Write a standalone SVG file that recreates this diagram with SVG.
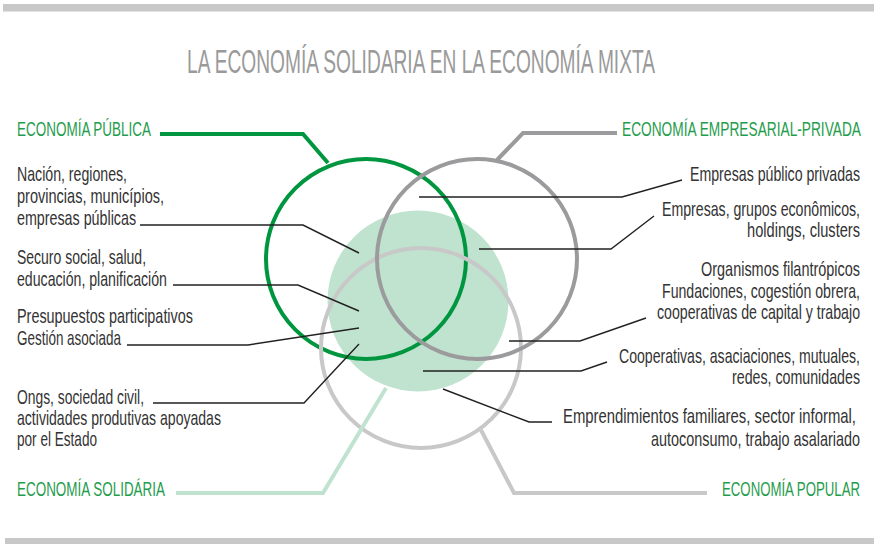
<svg xmlns="http://www.w3.org/2000/svg" width="874" height="544" viewBox="0 0 874 544">
<style>
.t{font-family:"Liberation Sans",Arial,sans-serif;font-size:20px;fill:#333333;}
.h{font-family:"Liberation Sans",Arial,sans-serif;font-size:21px;fill:#1f9d4d;}
.r{text-anchor:end;}
.title{font-family:"Liberation Sans",Arial,sans-serif;font-size:33px;fill:#9a9a9a;text-anchor:middle;}
.ring{fill:none;stroke-width:4;}
.lead{fill:none;stroke:#222222;stroke-width:1.4;}
.call{fill:none;stroke-width:4;}
</style>
<rect x="3" y="4" width="871" height="7.5" fill="#c8c8c8"/>
<rect x="5" y="538" width="869" height="6" fill="#c8c8c8"/>
<text class="title" transform="matrix(0.6 0 0 1 421 73)" x="0" y="0" textLength="780" lengthAdjust="spacingAndGlyphs">LA ECONOMÍA SOLIDARIA EN LA ECONOMÍA MIXTA</text>

<g id="solidaria">
<circle cx="418" cy="301" r="90.5" fill="#bfe3cf"/>
<text class="h" transform="matrix(0.65 0 0 1 17 496)" x="0" y="0" textLength="227.7" lengthAdjust="spacingAndGlyphs">ECONOMÍA SOLIDÁRIA</text>
</g>
<g id="publica">
<circle class="ring" cx="366" cy="259" r="100" stroke="#009640"/>
<text class="h" transform="matrix(0.65 0 0 1 17 136)" x="0" y="0" textLength="206.2" lengthAdjust="spacingAndGlyphs">ECONOMÍA PÚBLICA</text>
</g>
<g id="popular">
<circle class="ring" cx="421" cy="348" r="100" stroke="#c8c8c8"/>
<text class="h r" transform="matrix(0.65 0 0 1 860 496)" x="0" y="0" textLength="212.3" lengthAdjust="spacingAndGlyphs">ECONOMÍA POPULAR</text>
</g>
<g id="empresarial">
<circle class="ring" cx="477" cy="259" r="100" stroke="#9b9b9d"/>
<text class="h r" transform="matrix(0.65 0 0 1 861 136)" x="0" y="0" textLength="367.7" lengthAdjust="spacingAndGlyphs">ECONOMÍA EMPRESARIAL-PRIVADA</text>
</g>

<g id="connectors">
<polyline class="call" stroke="#009640" points="160,134 303,134 328,163"/>
<polyline class="call" stroke="#9b9b9d" points="617,133 523,133 497,160"/>
<polyline class="call" stroke="#bfe3cf" points="176,493 323,493 386,388"/>
<polyline class="call" stroke="#c8c8c8" points="707,493 514,493 481,430"/>

<polyline class="lead" points="140,225 303,225 359,253"/>
<polyline class="lead" points="173,285 298,285 359,311"/>
<polyline class="lead" points="127,345 248,345 359,328"/>
<polyline class="lead" points="153,403 304,403 359,344"/>

<polyline class="lead" points="682,180 622,197 419,197"/>
<polyline class="lead" points="654,216 611,249 479,249"/>
<polyline class="lead" points="646,318 580,341 509,341"/>
<polyline class="lead" points="607,362 581,371 423,371"/>
<polyline class="lead" points="552,422 529,422 443,389"/>
</g>

<g id="txt-publica">
<text class="t" transform="matrix(0.72 0 0 1 17 181)" x="0" y="0" textLength="152.8" lengthAdjust="spacingAndGlyphs">Nación, regiones,</text>
<text class="t" transform="matrix(0.72 0 0 1 17 203)" x="0" y="0" textLength="204.2" lengthAdjust="spacingAndGlyphs">provincias, municípios,</text>
<text class="t" transform="matrix(0.72 0 0 1 17 225)" x="0" y="0" textLength="165.3" lengthAdjust="spacingAndGlyphs">empresas públicas</text>
</g>
<g id="txt-seguro">
<text class="t" transform="matrix(0.72 0 0 1 17 264)" x="0" y="0" textLength="179.2" lengthAdjust="spacingAndGlyphs">Securo social, salud,</text>
<text class="t" transform="matrix(0.72 0 0 1 17 286)" x="0" y="0" textLength="208.3" lengthAdjust="spacingAndGlyphs">educación, planificación</text>
</g>
<g id="txt-presupuestos">
<text class="t" transform="matrix(0.72 0 0 1 17 323)" x="0" y="0" textLength="244.4" lengthAdjust="spacingAndGlyphs">Presupuestos participativos</text>
<text class="t" transform="matrix(0.72 0 0 1 17 345)" x="0" y="0" textLength="144.4" lengthAdjust="spacingAndGlyphs">Gestión asociada</text>
</g>
<g id="txt-ongs">
<text class="t" transform="matrix(0.72 0 0 1 17 404)" x="0" y="0" textLength="176.4" lengthAdjust="spacingAndGlyphs">Ongs, sociedad civil,</text>
<text class="t" transform="matrix(0.72 0 0 1 17 425)" x="0" y="0" textLength="283.3" lengthAdjust="spacingAndGlyphs">actividades produtivas apoyadas</text>
<text class="t" transform="matrix(0.72 0 0 1 17 446)" x="0" y="0" textLength="111.1" lengthAdjust="spacingAndGlyphs">por el Estado</text>
</g>

<g id="txt-pp">
<text class="t r" transform="matrix(0.72 0 0 1 860 181)" x="0" y="0" textLength="236.1" lengthAdjust="spacingAndGlyphs">Empresas público privadas</text>
</g>
<g id="txt-empresas">
<text class="t r" transform="matrix(0.72 0 0 1 860 216)" x="0" y="0" textLength="275" lengthAdjust="spacingAndGlyphs">Empresas, grupos econômicos,</text>
<text class="t r" transform="matrix(0.72 0 0 1 860 237)" x="0" y="0" textLength="156.9" lengthAdjust="spacingAndGlyphs">holdings, clusters</text>
</g>
<g id="txt-organismos">
<text class="t r" transform="matrix(0.72 0 0 1 860 276)" x="0" y="0" textLength="220.8" lengthAdjust="spacingAndGlyphs">Organismos filantrópicos</text>
<text class="t r" transform="matrix(0.72 0 0 1 860 298)" x="0" y="0" textLength="275" lengthAdjust="spacingAndGlyphs">Fundaciones, cogestión obrera,</text>
<text class="t r" transform="matrix(0.72 0 0 1 860 319)" x="0" y="0" textLength="281.9" lengthAdjust="spacingAndGlyphs">cooperativas de capital y trabajo</text>
</g>
<g id="txt-cooperativas">
<text class="t r" transform="matrix(0.72 0 0 1 860 363)" x="0" y="0" textLength="334.7" lengthAdjust="spacingAndGlyphs">Cooperativas, asaciaciones, mutuales,</text>
<text class="t r" transform="matrix(0.72 0 0 1 860 384)" x="0" y="0" textLength="177.8" lengthAdjust="spacingAndGlyphs">redes, comunidades</text>
</g>
<g id="txt-emprendimientos">
<text class="t r" transform="matrix(0.72 0 0 1 856 423)" x="0" y="0" textLength="406.9" lengthAdjust="spacingAndGlyphs">Emprendimientos familiares, sector informal,</text>
<text class="t r" transform="matrix(0.72 0 0 1 860 446)" x="0" y="0" textLength="290.3" lengthAdjust="spacingAndGlyphs">autoconsumo, trabajo asalariado</text>
</g>
</svg>
